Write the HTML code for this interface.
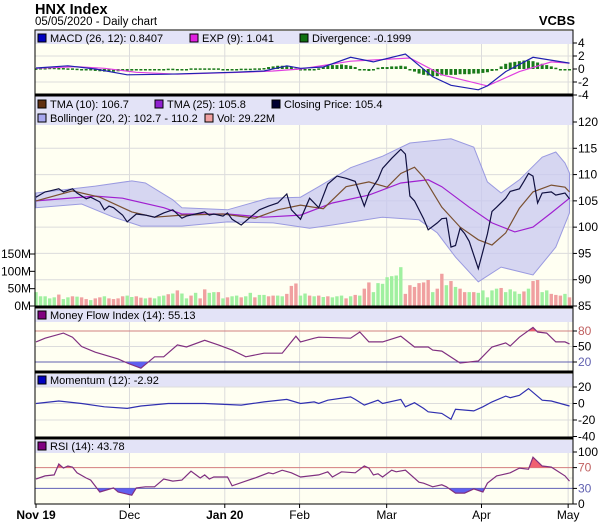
<!DOCTYPE html>
<html><head><meta charset="utf-8"><style>
body{margin:0;background:#fff;width:601px;height:523px;overflow:hidden;font-family:"Liberation Sans",sans-serif}
svg text{font-family:"Liberation Sans",sans-serif}
</style></head><body>
<svg id="c" width="601" height="523" xmlns="http://www.w3.org/2000/svg"></svg>
<script>
// ---- data (day index, value) ----
const closeIdx=[0,2,3,5,6,8,9,11,12,14,15,16,17,19,20,22,24,26,28,30,32,33,35,37,38,39,41,42,43,45,47,49,51,53,55,56,58,60,62,64,66,68,70,72,73,75,76,78,80,81,82,83,85,86,88,89,90,91,92,93,94,95,97,98,99,100,101,103,104,106,107,108,109,110,111,113,114,116,117];
const closeVal=[105.7,106.7,106.9,107.3,106.7,107.3,106.5,105.4,105.7,104.8,103.3,104.0,103.7,102.3,101.0,102.5,102.3,101.9,102.7,103.3,101.7,102.1,102.5,102.9,102.3,102.5,102.1,102.7,101.5,100.4,101.9,103.3,104.0,104.6,106.3,103.3,101.5,105.5,103.7,108.2,109.7,109.3,108.7,104.0,106.5,109.1,111.2,113.1,114.8,113.9,105.9,105.0,101.6,99.5,100.8,101.6,101.7,96.2,96.5,99.8,98.8,97.3,92.1,95.4,98.7,103.0,103.8,105.5,106.8,107.3,108.7,110.2,109.7,104.6,106.5,106.7,106.1,106.5,105.4];
const tma10Idx=[0,8,14,21,26,32,41,48,53,58,63,68,73,77,80,83,85,89,93,97,100,103,106,109,113,116,117];
const tma10Val=[105.0,106.9,105.7,102.9,101.9,102.3,102.5,101.7,103.3,104.2,103.5,107.7,108.6,107.6,110.2,111.4,109.5,103.8,100.0,97.6,96.6,98.9,103.6,106.7,108.0,107.6,106.7];
const tma25Idx=[0,13,19,28,32,42,50,58,65,73,80,86,89,95,100,105,109,113,117];
const tma25Val=[105.0,105.9,105.5,103.7,102.5,102.5,101.9,102.3,104.6,106.1,108.4,109.0,107.7,103.8,100.8,99.1,100.0,102.7,105.5];
const bbUpIdx=[0,13,21,24,30,32,42,51,58,62,69,76,82,91,96,99,102,106,111,114,116,117];
const bbUpVal=[106.5,107.8,108.8,108.4,105.2,103.7,103.3,105.5,105.7,107.7,111.3,113.5,116.0,116.8,115.2,108.6,106.5,109.0,113.3,114.3,112.2,110.3];
const bbLoIdx=[0,10,17,23,32,42,52,60,65,76,84,88,92,97,102,109,114,117];
const bbLoVal=[103.7,104.4,101.9,100.2,100.2,101.0,100.8,99.8,100.4,101.9,101.4,98.9,94.3,89.6,92.4,90.9,96.2,102.7];
const volume=[40,28,28,22,25,33,20,25,28,27,25,20,17,22,25,28,22,20,22,28,30,
26,28,24,22,24,22,28,30,34,36,45,36,22,30,38,22,48,38,40,40,22,
25,28,30,25,28,38,25,32,32,28,30,30,28,35,58,65,30,36,30,28,30,
26,28,25,28,30,22,28,32,30,50,68,40,66,64,83,86,88,112,35,60,55,
66,68,75,40,50,93,60,72,55,50,40,40,40,38,45,25,45,50,52,40,48,
42,35,42,50,72,75,40,45,35,32,30,35,25];
const volDir="GGGGGRGGRGRRGRRGRRRRG"+"GRRGRGGGRGRGGRGRRGGRG"+"RGGRGGRGGRRGGRRRGGRGR"+"GRGGGRGRGRRGGGGGGGRRR"+"RRRGRRGRGRRGRGGGGGRGG"+"GGRGRRGGRRRGR";
const macdIdx=[0,7,13,20,29,43,50,55,58,63,69,74,81,87,91,97,99,103,109,117];
const macdVal=[0.15,0.5,0,-0.9,-0.8,-0.5,-0.3,0.5,0.1,0.3,1.8,1.1,2.3,-1.2,-2.5,-3.2,-2.6,-0.4,1.8,0.9];
const expIdx=[0,9,15,22,31,45,52,58,69,82,89,99,106,113,117];
const expVal=[0.1,0.35,0.1,-0.5,-0.8,-0.5,-0.3,0,1.2,1.7,-0.9,-2.6,-0.4,1.1,0.9];
const diverg=[.1,.15,.15,.2,.2,.15,.15,.1,.1,.05,0,
-.1,-.2,-.3,-.35,-.4,-.4,-.4,-.35,-.3,-.3,-.25,-.2,-.15,
-.1,-.1,-.1,0,0,.05,.05,0,-.05,0,.1,.1,.1,.1,.1,.1,.1,0,-.05,-.05,0,.05,.05,.05,.1,.1,.15,
.3,.4,.5,.5,.4,.3,.1,0,-.1,-.1,0,.1,
.3,.5,.6,.6,.7,.6,.5,.3,0,-.2,
-.3,-.1,.2,.3,.3,.4,.4,.5,.4,0,
-.4,-.7,-.9,-1,-1.1,-1.1,-1,-.9,-.9,-.9,-.8,-.8,-.8,-.7,-.7,-.6,-.5,-.3,
0,.4,.8,1,1.1,1.2,1.3,1.3,1.2,1,.8,.6,
.4,.2,0,-.1,-.2];
const mfiIdx=[0,2,6,8,10,13,18,20,23,26,28,31,33,37,40,43,46,50,54,57,58,61,62,69,71,73,76,80,83,86,87,89,93,97,100,103,104,106,109,110,112,114,116,117];
const mfiVal=[59,66,76,68,50,39,26,18,8,30,30,53,49,62,53,43,30,37,37,70,59,66,68,66,78,59,59,70,49,49,43,41,18,22,49,57,51,68,87,78,76,59,59,55];
const momIdx=[0,5,10,15,20,23,29,37,45,50,55,58,61,62,64,69,70,72,75,76,80,81,83,85,86,89,91,92,96,98,100,103,104,106,108,111,113,117];
const momVal=[0,3,0,-4,-6,-3,0,0,-2,2,5,0,2,0,4,8,5,-2,4,0,5,-4,1,-6,-10,-12,-19,-7,-9,-4,2,9,7,10,18,4,3,-3];
const rsiIdx=[0,2,4,5,6,7,8,9,11,12,14,17,18,21,22,24,26,28,30,32,34,36,37,38,39,42,43,46,48,51,52,54,56,58,62,64,65,67,70,72,73,74,75,76,78,79,81,84,85,87,89,90,92,94,96,98,99,101,102,104,106,108,109,111,113,116,117];
const rsiVal=[48,54,56,77,69,73,71,60,50,46,23,31,23,17,31,33,33,48,44,46,63,50,56,48,52,52,35,44,50,60,58,65,60,52,56,62,52,62,60,73,69,56,58,52,65,62,65,42,40,33,37,33,21,21,29,23,40,54,56,60,69,67,90,73,71,54,44];
const macdTicks=[4,2,0,-2,-4];
const priceTicks=[120,115,110,105,100,95,90,85];
const volTicks=[150,100,50,0];
const momTicks=[20,0,-20,-40];
const months=[{i:20.5,l:"Dec",b:0},{i:41.4,l:"Jan 20",b:1},{i:57.8,l:"Feb",b:0},{i:76.9,l:"Mar",b:0},{i:97.7,l:"Apr",b:0},{i:116.7,l:"May",b:0}];

// ---- drawing ----
const S=document.getElementById('c'),NS="http://www.w3.org/2000/svg";
const L=35,R=573;
const X=i=>36+i*4.56;
function el(t,a,p){const e=document.createElementNS(NS,t);for(const k in a)e.setAttribute(k,a[k]);(p||S).appendChild(e);return e;}
function lin(v0,y0,v1,y1){return v=>y0+(v-v0)*(y1-y0)/(v1-v0);}
const yMacd=lin(0,69,4,43),yP=lin(120,122,85,306),yV=lin(0,306,150,254),yMfi=lin(20,362,80,331),yMom=lin(0,403.5,20,387),yRsi=lin(0,504,100,452);
function pts(idx,val,y){return idx.map((d,k)=>X(d).toFixed(1)+","+y(val[k]).toFixed(1)).join(" ");}
function panel(name,t,b){const r=el('rect',{x:L,y:t,width:R-L,height:b-t,fill:'#fffff2'});}
function band(t,h){el('rect',{x:L,y:t,width:R-L,height:h,fill:'#e3e3f7'});}
function hgrid(y,c){el('line',{x1:L,x2:R,y1:y,y2:y,stroke:c||'#dcdcdc','stroke-width':1});}
function vgrid(t,b){months.forEach(m=>el('line',{x1:X(m.i),x2:X(m.i),y1:t,y2:b,stroke:'#dcdcdc'}));}
function rlab(v,y,c){el('line',{x1:R,x2:R+4,y1:y,y2:y,stroke:'#000'});const t=el('text',{x:R+5,y:y+4,'font-size':12,fill:c||'#000'});t.textContent=v;}
function leg(x,y,col,txt,name){el('rect',{x:x,y:y-8,width:8,height:8,fill:col,stroke:'#000','stroke-width':1});const t=el('text',{x:x+12,y:y,'font-size':11,fill:'#000'});t.textContent=txt;}
function line(idx,val,y,c,name,w){const p=el('polyline',{points:pts(idx,val,y),fill:'none',stroke:c,'stroke-width':w||1.2});}
function zoneFill(idx,val,y,th,above,col,top,bot,id){
  const cp=el('clipPath',{id:id});const yt=y(th);
  el('rect',above?{x:L,y:top,width:R-L,height:yt-top}:{x:L,y:yt,width:R-L,height:bot-yt},cp);
  const p=el('polygon',{points:X(idx[0])+","+yt+" "+pts(idx,val,y)+" "+X(idx[idx.length-1])+","+yt,fill:col,'clip-path':'url(#'+id+')'});
  
}

// title
let t=el('text',{x:35,y:14,'font-size':14.5,'font-weight':'bold'});t.textContent="HNX Index";
t=el('text',{x:35,y:25,'font-size':11.5});t.textContent="05/05/2020 - Daily chart";
t=el('text',{x:575,y:25,'font-size':13,'font-weight':'bold','text-anchor':'end'});t.textContent="VCBS";

// MACD panel
panel('macd-panel',30,95);band(31,13);
[2,-2].forEach(v=>hgrid(yMacd(v)));vgrid(44,95);
diverg.forEach((v,i)=>{const y0=yMacd(0),y1=yMacd(v);const r=el('rect',{x:X(i)-1.5,y:Math.min(y0,y1),width:3,height:Math.max(1.5,Math.abs(y1-y0)),fill:'#1a7a1a'});});
line(expIdx,expVal,yMacd,'#e040e0','exp-line');
line(macdIdx,macdVal,yMacd,'#2020b0','macd-line');
leg(38,42,'#0000c0','MACD (26, 12): 0.8407','macd-legend');leg(190,42,'#e020e0','EXP (9): 1.041','exp-legend');leg(300,42,'#107010','Divergence: -0.1999','divergence-legend');
macdTicks.forEach(v=>rlab(v,yMacd(v)));

// main panel
panel('price-panel',95,307);band(96,29);
[115,110,105,100,95,90].forEach(v=>hgrid(yP(v)));vgrid(125,307);
const bb=el('polygon',{points:pts(bbUpIdx,bbUpVal,yP)+" "+pts(bbLoIdx.slice().reverse(),bbLoVal.slice().reverse(),yP),fill:'#c8c8f0','fill-opacity':0.75,stroke:'#9a9ae0','stroke-width':1});

volume.forEach((v,i)=>{const r=el('rect',{x:X(i)-1.7,y:yV(v),width:3.4,height:306-yV(v),fill:volDir[i]=='G'?'#a0f0a0':'#f0a0a0'});});
line(tma25Idx,tma25Val,yP,'#a020d0','tma25-line');
line(tma10Idx,tma10Val,yP,'#7a5030','tma10-line');
line(closeIdx,closeVal,yP,'#101040','close-line');
leg(38,108,'#603010','TMA (10): 106.7','tma10-legend');leg(155,108,'#9020d0','TMA (25): 105.8','tma25-legend');leg(272,108,'#000030','Closing Price: 105.4','close-legend');
leg(38,122,'#a8a8f0','Bollinger (20, 2): 102.7 - 110.2','bollinger-legend');leg(205,122,'#f0a0a0','Vol: 29.22M','volume-legend');
priceTicks.forEach(v=>rlab(v,yP(v)));
volTicks.forEach(v=>{const y=yV(v);el('line',{x1:L-5,x2:L,y1:y,y2:y,stroke:'#000'});const tt=el('text',{x:L-4,y:y+4,'font-size':12,'text-anchor':'end'});tt.textContent=v+"M";});

// MFI
panel('mfi-panel',307,372);band(309,13);
hgrid(yMfi(50));vgrid(322,372);hgrid(yMfi(80),'#d08080');hgrid(yMfi(20),'#6060b0');
zoneFill(mfiIdx,mfiVal,yMfi,80,true,'#f06070',322,372,'mfiHi');zoneFill(mfiIdx,mfiVal,yMfi,20,false,'#6060f0',322,372,'mfiLo');
line(mfiIdx,mfiVal,yMfi,'#803080','mfi-line');
leg(38,319,'#800080','Money Flow Index (14): 55.13','mfi-legend');
rlab(80,yMfi(80),'#c06060');rlab(50,yMfi(50));rlab(20,yMfi(20),'#6060b0');

// Momentum
panel('momentum-panel',372,438);band(374,13);
[20,0,-20].forEach(v=>hgrid(yMom(v)));vgrid(387,438);
line(momIdx,momVal,yMom,'#3030b0','momentum-line');
leg(38,384,'#0000c0','Momentum (12): -2.92','momentum-legend');
momTicks.forEach(v=>rlab(v,yMom(v)));

// RSI
panel('rsi-panel',438,504);band(440,13);
hgrid(yRsi(50));vgrid(453,504);hgrid(yRsi(70),'#d08080');hgrid(yRsi(30),'#6060b0');
zoneFill(rsiIdx,rsiVal,yRsi,70,true,'#f06070',453,504,'rsiHi');zoneFill(rsiIdx,rsiVal,yRsi,30,false,'#6060f0',453,504,'rsiLo');
line(rsiIdx,rsiVal,yRsi,'#803080','rsi-line');
leg(38,450,'#800080','RSI (14): 43.78','rsi-legend');
rlab(100,yRsi(100));rlab(70,yRsi(70),'#c06060');rlab(30,yRsi(30),'#6060b0');rlab(0,yRsi(0));

// borders
[[30,95],[95,307],[307,372],[372,438],[438,504]].forEach(([a,b])=>el('rect',{x:L,y:a,width:R-L,height:b-a,fill:'none',stroke:'#000','stroke-width':1}));
[95,307,372,438].forEach(y=>el('line',{x1:L,x2:R,y1:y,y2:y,stroke:'#000','stroke-width':3}));

// x labels
el('line',{x1:X(0),x2:X(0),y1:504,y2:508,stroke:'#000'});
t=el('text',{x:X(0),y:519,'font-size':12,'font-weight':'bold','text-anchor':'middle'});t.textContent="Nov 19";
months.forEach(m=>{el('line',{x1:X(m.i),x2:X(m.i),y1:504,y2:508,stroke:'#000'});const tt=el('text',{x:X(m.i),y:519,'font-size':12,'font-weight':m.b?'bold':'normal','text-anchor':'middle'});tt.textContent=m.l;});
</script>
</body></html>
